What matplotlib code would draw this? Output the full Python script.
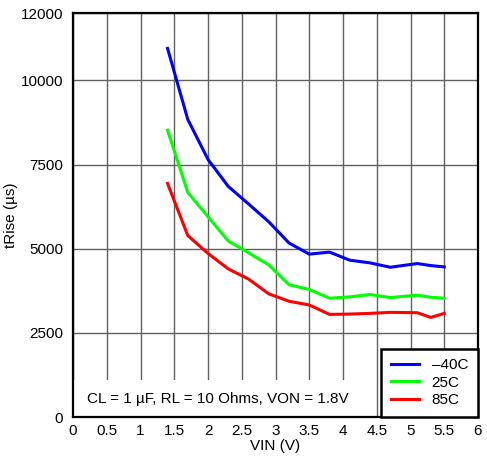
import matplotlib.pyplot as plt
from matplotlib.patches import Rectangle

# -------------------------
# Data
# -------------------------

vin = [1.4, 1.7, 2.0, 2.3, 2.6, 2.9, 3.2, 3.5, 3.8, 4.1, 4.4, 4.7, 5.1, 5.3, 5.5]

t_m40 = [10950, 8840, 7650, 6850, 6330, 5800, 5170, 4840, 4900, 4660, 4580, 4450, 4560, 4500, 4460]
t_25 = [8520, 6670, 5950, 5230, 4880, 4520, 3930, 3790, 3530, 3570, 3640, 3550, 3620, 3560, 3530]
t_85 = [6940, 5390, 4860, 4400, 4100, 3660, 3440, 3330, 3050, 3060, 3080, 3110, 3100, 2960, 3080]

labels = ["\u201340C", "25C", "85C"]
colors = ["#0000ff", "#00ff00", "#ff0000"]

xticks = [0, 0.5, 1, 1.5, 2, 2.5, 3, 3.5, 4, 4.5, 5, 5.5, 6]
xticklabels = ["0", "0.5", "1", "1.5", "2", "2.5", "3", "3.5", "4", "4.5", "5", "5.5", "6"]
yticks = [0, 2500, 5000, 7500, 10000, 12000]

note = "CL = 1 \u00b5F, RL = 10 Ohms, VON = 1.8V"

# -------------------------
# Figure
# -------------------------

plt.rcParams["font.family"] = ["Liberation Sans", "DejaVu Sans"]
plt.rcParams["font.size"] = 11

fig = plt.figure(figsize=(4.87, 4.65), dpi=100)
ax = fig.add_axes([0.150, 0.103, 0.8315, 0.869])

for y, lab, c in zip([t_m40, t_25, t_85], labels, colors):
    ax.plot(vin, y, color=c, lw=2.2, label=lab, zorder=3)

ax.set_xlim(0, 6)
ax.set_ylim(0, 12000)
ax.set_xticks(xticks)
ax.set_xticklabels(xticklabels)
ax.set_yticks(yticks)

ax.set_axisbelow(True)
ax.grid(True, color="#606060", lw=1.0)
ax.tick_params(axis="y", length=0, pad=7, labelsize=11)
ax.tick_params(axis="x", length=0, pad=5, labelsize=11)

for s in ax.spines.values():
    s.set_linewidth(1.6)
    s.set_color("black")

# white patch behind the note, hides the grid there
ax.add_patch(Rectangle((0, 0), 4.47, 1100, facecolor="white",
                       edgecolor="none", zorder=1.5))
ax.text(0.2, 550, note, va="center", ha="left", fontsize=11, zorder=4)

leg = ax.legend(loc="lower right", bbox_to_anchor=(1.0, 0.0),
                borderaxespad=0, frameon=True, fancybox=False, framealpha=1,
                edgecolor="black", handlelength=1.8, handletextpad=0.85,
                fontsize=11, borderpad=0.65, labelspacing=0.22)
leg.get_frame().set_linewidth(1.8)

ax.set_xlabel("VIN (V)", labelpad=1)
ax.set_ylabel("tRise (\u00b5s)", labelpad=2)

fig.savefig("out.png", dpi=100)
